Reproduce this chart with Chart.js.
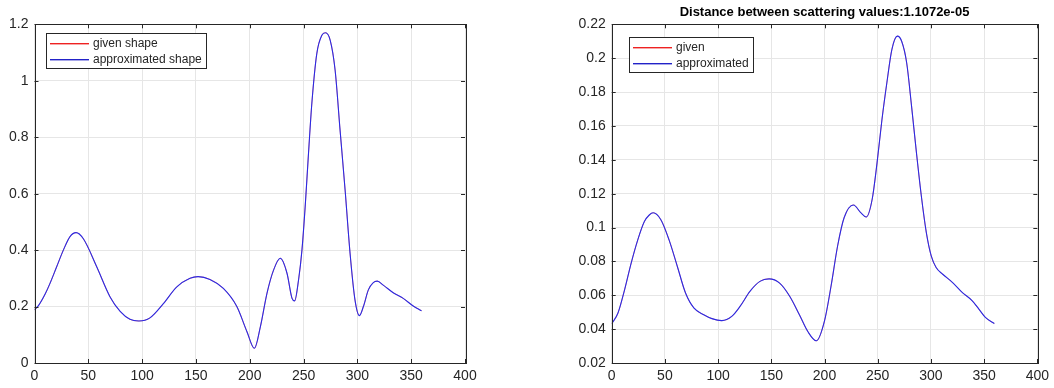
<!DOCTYPE html>
<html>
<head>
<meta charset="utf-8">
<script src="https://cdn.jsdelivr.net/npm/chart.js@4.4.1/dist/chart.umd.min.js"></script>
<style>
    body { margin: 0; background: #fff; overflow: hidden; }
    #wrap { position: relative; width: 1054px; height: 388px; }
    canvas { position: absolute; top: 0; }
    #shapeChart { left: 0; }
    #scatterChart { left: 527px; }
</style>
</head>
<body>
<div id="wrap">
    <canvas id="shapeChart" width="527" height="388"></canvas>
    <canvas id="scatterChart" width="527" height="388"></canvas>
</div>
<script>
// shape along the angle (deg)
const shapeAngles = [0, 4, 10, 14.4, 20.6, 26.8, 33, 38.6, 45.4, 57.8, 70.1, 79.6, 88.7, 97,
    107.3, 119.7, 132, 144.5, 152, 163, 175.5, 188, 197.5, 204.3, 209.9, 216, 222.2, 228.4,
    234.6, 239.2, 241.7, 245.4, 248.5, 251.5, 254.6, 257.7, 262.3, 267, 270.4, 274.7, 279.3,
    283.9, 288.6, 293.2, 297.8, 301.9, 305.6, 310.2, 314.8, 318.5, 324, 333.3, 342.6, 351.9, 359.6];
const shapeValues = [0.188, 0.205, 0.245, 0.282, 0.341, 0.40, 0.448, 0.462, 0.44, 0.341, 0.235,
    0.183, 0.155, 0.149, 0.16, 0.21, 0.269, 0.30, 0.306, 0.296, 0.264, 0.20, 0.11, 0.052, 0.129,
    0.247, 0.33, 0.371, 0.318, 0.23, 0.22, 0.296, 0.40, 0.554, 0.743, 0.92, 1.096, 1.161, 1.17,
    1.144, 1.038, 0.826, 0.613, 0.389, 0.223, 0.168, 0.20, 0.259, 0.285, 0.29, 0.276, 0.249,
    0.229, 0.202, 0.185];

// scattering values along the angle (deg)
const scatterAngles = [0, 5.9, 12.1, 18.3, 24.5, 30.7, 35.3, 39, 46.2, 53.9, 61.7, 69.4, 77.2,
    86.5, 94.2, 103.5, 112.8, 120.6, 129.9, 139.3, 147.9, 157.8, 167.4, 176.4, 184.3, 192.3, 200,
    206.2, 212.3, 218.5, 227.2, 234, 239.2, 244.8, 249.4, 254, 258.6, 263.3, 268.5, 272.5, 277.2,
    281.8, 286.4, 291, 295.7, 300.3, 304.9, 311.1, 320.4, 329.6, 338.9, 345.1, 351.2, 359.6];
const scatterValues = [0.0432, 0.0495, 0.0632, 0.079, 0.0927, 0.1035, 0.1074, 0.1087, 0.1046,
    0.0927, 0.077, 0.0613, 0.0525, 0.0485, 0.0462, 0.045, 0.0475, 0.0534, 0.0623, 0.0682, 0.0697,
    0.0672, 0.0593, 0.0485, 0.0386, 0.0331, 0.0449, 0.0656, 0.0891, 0.1059, 0.1133, 0.1088,
    0.1062, 0.1167, 0.1383, 0.1638, 0.1855, 0.2051, 0.213, 0.21, 0.1973, 0.1717, 0.1442, 0.1186,
    0.097, 0.0832, 0.0764, 0.0724, 0.0675, 0.0616, 0.0567, 0.0518, 0.0469, 0.0433];

const shapeLabels = ['given shape', 'approximated shape'];
const scatterLabels = ['given', 'approximated'];
const scatterTitle = 'Distance between scattering values:1.1072e-05';

const FONT = "'Liberation Sans', Arial, Helvetica, sans-serif";
const INK = '#262626';
const GIVEN_COLOR = '#e02020';
const APPROX_COLOR = '#2a2ae4';
const LEGEND_COLORS = ['#ee2222', '#2222c8'];

// box around the axes with inward tick marks, like the usual plot frame
const axesBox = {
    id: 'axesBox',
    afterDatasetsDraw(chart) {
        const {ctx, chartArea: a, scales} = chart;
        ctx.save();
        ctx.strokeStyle = INK;
        ctx.lineWidth = 1;
        ctx.beginPath();
        scales.x.ticks.forEach(t => {
            const px = Math.round(scales.x.getPixelForValue(t.value)) + 0.5;
            ctx.moveTo(px, a.bottom); ctx.lineTo(px, a.bottom - 4);
            ctx.moveTo(px, a.top); ctx.lineTo(px, a.top + 4);
        });
        scales.y.ticks.forEach(t => {
            const py = Math.round(scales.y.getPixelForValue(t.value)) + 0.5;
            ctx.moveTo(a.left, py); ctx.lineTo(a.left + 4, py);
            ctx.moveTo(a.right, py); ctx.lineTo(a.right - 4, py);
        });
        ctx.stroke();
        ctx.strokeRect(Math.round(a.left) + 0.5, Math.round(a.top) + 0.5,
            Math.round(a.right - a.left), Math.round(a.bottom - a.top));
        ctx.restore();
    }
};

// boxed legend sitting inside the plot area
const boxLegend = {
    id: 'boxLegend',
    afterDraw(chart, args, opts) {
        const {ctx, chartArea: a} = chart;
        const x = Math.round(a.left + opts.dx), y = Math.round(a.top + opts.dy);
        const rowH = 16.7, lineLen = 39;
        ctx.save();
        ctx.font = '12px ' + FONT;
        const sets = chart.data.datasets;
        const textW = Math.max(...sets.map(d => ctx.measureText(d.label).width));
        const w = Math.round(4 + lineLen + 4 + textW + 4);
        const h = Math.round(rowH * sets.length + 2);
        ctx.fillStyle = '#fff';
        ctx.fillRect(x, y, w, h);
        ctx.strokeStyle = INK;
        ctx.lineWidth = 1;
        ctx.strokeRect(x + 0.5, y + 0.5, w, h);
        ctx.textBaseline = 'middle';
        sets.forEach((d, i) => {
            const cy = Math.round(y + 9.5 + i * rowH);
            // sample line, a little soft underneath
            ctx.fillStyle = LEGEND_COLORS[i];
            ctx.fillRect(x + 4, cy, lineLen, 1);
            ctx.globalAlpha = 0.4;
            ctx.fillRect(x + 4, cy + 1, lineLen, 1);
            ctx.globalAlpha = 1;
            ctx.fillStyle = INK;
            ctx.fillText(d.label, x + 4 + lineLen + 4, cy + 0.5);
        });
        ctx.restore();
    }
};

function makeChart(canvas, angles, values, labels, cfg) {
    const points = angles.map((a, i) => ({x: a, y: values[i]}));
    // the given curve sits under the approximated one and is hidden by it
    const datasets = [
        {label: labels[0], data: points, borderColor: GIVEN_COLOR, borderWidth: 0.5, order: 1},
        {label: labels[1], data: points, borderColor: APPROX_COLOR, borderWidth: 1.1, order: 0}
    ].map(d => Object.assign(d, {
        showLine: true,
        pointRadius: 0,
        cubicInterpolationMode: 'monotone'
    }));

    const tickFont = {family: FONT, size: 14};
    return new Chart(canvas, {
        type: 'scatter',
        data: {datasets: datasets},
        options: {
            responsive: false,
            animation: false,
            layout: {padding: cfg.padding},
            plugins: {
                legend: {display: false},
                tooltip: {enabled: false},
                title: cfg.title ? {
                    display: true,
                    text: cfg.title,
                    fullSize: false,
                    color: '#000',
                    font: {family: FONT, size: 13, weight: 'bold', lineHeight: 1.2},
                    padding: {top: 5, bottom: 3.7}
                } : {display: false},
                boxLegend: cfg.legend
            },
            scales: {
                x: {
                    type: 'linear',
                    min: 0, max: 400,
                    ticks: {stepSize: 50, color: INK, font: tickFont, padding: 5, maxRotation: 0},
                    grid: {color: '#e6e6e6', drawTicks: false},
                    border: {display: false},
                    afterFit: s => { s.height = 25; }
                },
                y: {
                    min: cfg.yMin, max: cfg.yMax,
                    ticks: {
                        stepSize: cfg.yStep, color: INK, font: tickFont, padding: 6,
                        callback: v => String(+v.toFixed(3))
                    },
                    grid: {color: '#e6e6e6', drawTicks: false},
                    border: {display: false},
                    afterFit: s => { s.width = cfg.yWidth; }
                }
            }
        },
        plugins: [axesBox, boxLegend]
    });
}

makeChart(document.getElementById('shapeChart'), shapeAngles, shapeValues, shapeLabels, {
    padding: {left: 0, top: 24.3, right: 62, bottom: 0},
    yWidth: 34.5,
    yMin: 0, yMax: 1.2, yStep: 0.2,
    legend: {dx: 11.5, dy: 8.7}
});

makeChart(document.getElementById('scatterChart'), scatterAngles, scatterValues, scatterLabels, {
    padding: {left: 0, top: 0, right: 12.3, bottom: 0},
    yWidth: 84.7,
    yMin: 0.02, yMax: 0.22, yStep: 0.02,
    title: scatterTitle,
    legend: {dx: 17.3, dy: 12.7}
});
</script>
</body>
</html>
